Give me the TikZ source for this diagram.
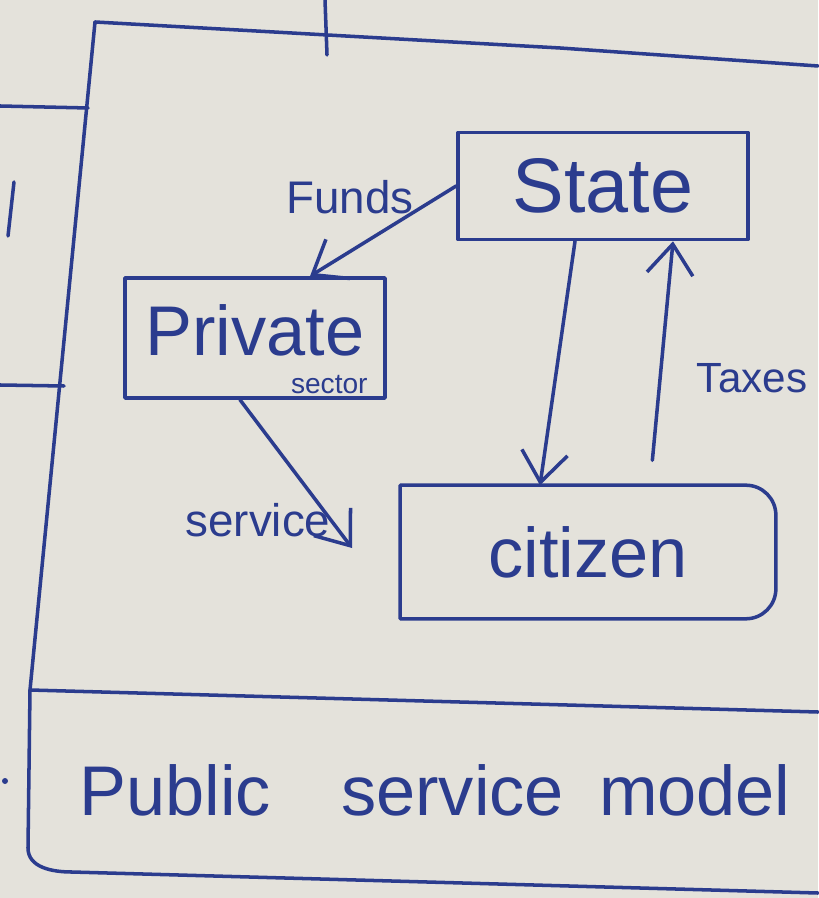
\documentclass[tikz,border=0pt]{standalone}
\usepackage{fontspec}
\setmainfont{Liberation Sans}
\usetikzlibrary{arrows.meta,positioning,calc}

\definecolor{inkblue}{HTML}{2B3C8E}
\definecolor{paper}{HTML}{E4E2DB}

\begin{document}
\begin{tikzpicture}[
  x=0.01cm, y=-0.01cm,
  ink/.style={
    draw=inkblue,
    line width=1pt,
    line cap=round,
    line join=round
  },
  box/.style={
    ink,
    rectangle,
    text=inkblue,
    align=center,
    inner sep=0pt
  },
  lbl/.style={
    text=inkblue,
    inner sep=1pt,
    font=\fontsize{12}{14}\selectfont
  },
  flow/.style={ink, -{Straight Barb[length=3mm,width=4.6mm]}}
]
\fill[paper] (0,0) rectangle (818,898);
\useasboundingbox (0,0) rectangle (818,898);

% frame of the sheet
\draw[ink] (95,22) -- (560,48) -- (818,66);
\draw[ink] (95,22) -- (30,690) -- (28,848) to[out=-90,in=180] (72,872) -- (818,893);
\draw[ink] (30,690) -- (818,712);
\draw[ink] (325,0) -- (327,55);
% pieces of the next sheet
\draw[ink] (0,106) -- (88,108);
\draw[ink] (0,385) -- (64,386);
\draw[ink] (14,182) -- (8,236);
\fill[inkblue] (5,781) circle (3);

\node[box, minimum width=2.9cm, minimum height=1.07cm,
  font=\fontsize{22}{26}\selectfont] (state) at (603,186) {State};
\node[box, minimum width=2.6cm, minimum height=1.2cm, text depth=1.5mm,
  font=\fontsize{20}{24}\selectfont] (private) at (255,338) {Private};
\node[lbl, font=\fontsize{8}{9}\selectfont, above left=0.2mm and 1.5mm of private.south east]
  (sector) {sector};
\node[box, draw=none, minimum width=3.72cm, minimum height=1.3cm,
  font=\fontsize{20}{24}\selectfont] (citizen) at (588,552) {citizen};
\draw[ink] (citizen.north west) -- ([xshift=-3mm]citizen.north east)
  arc[start angle=90, end angle=0, radius=3mm]
  -- ([yshift=3mm]citizen.south east)
  arc[start angle=0, end angle=-90, radius=3mm]
  -- (citizen.south west) -- cycle;

\node[text=inkblue, font=\fontsize{20}{24}\selectfont] (caption) at (435,790)
  {Public\hspace{1em}service\hspace{0.5em}model};

% flows between the parties
\draw[flow] (state.west) -- ($(private.north)+(55,0)$);
\node[lbl, font=\fontsize{13}{15}\selectfont] (funds) at (350,197) {Funds};

\draw[flow] ($(state.south)+(-28,0)$) -- ($(citizen.north)+(-48,0)$);
\draw[flow, shorten <=2.5mm] ($(citizen.north)+(62,0)$) -- ($(state.south)+(70,0)$);
\node[lbl] (taxes) at (752,378) {Taxes};

\coordinate (service-end) at (352,548);
\draw[flow] ($(private.south)+(-15,0)$) -- (service-end);
\node[lbl, font=\fontsize{13}{15}\selectfont] (service) at (258,520) {service};
\end{tikzpicture}
\end{document}
